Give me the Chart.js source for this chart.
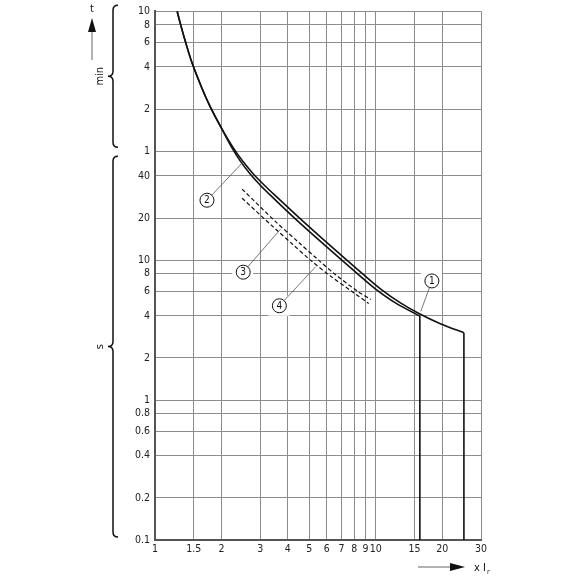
<!DOCTYPE html>
<html>
<head>
<meta charset="utf-8">
<script src="https://cdn.jsdelivr.net/npm/chart.js@4.4.1/dist/chart.umd.min.js"></script>
<style>
  html,body{margin:0;padding:0;background:#fff;}
  #wrap{width:580px;height:580px;}
</style>
</head>
<body>
<div id="wrap"><canvas id="chart" width="580" height="580"></canvas></div>
<script>
// axis ticks
const xTicks = [1, 1.5, 2, 3, 4, 5, 6, 7, 8, 9, 10, 15, 20, 30];
const yTicks = [0.1, 0.2, 0.4, 0.6, 0.8, 1, 2, 4, 6, 8, 10, 20, 40, 60, 120, 240, 360, 480, 600];
const yTickLabels = ['0.1','0.2','0.4','0.6','0.8','1','2','4','6','8','10','20','40','1','2','4','6','8','10'];

// curve 1 (outer solid), x = multiple of Ir, y = seconds
const curve1X = [1.26, 1.30, 1.37, 1.47, 1.63, 1.78, 2.0, 2.26, 2.5, 2.79, 3.13, 3.5, 4.48, 5.5, 7.31, 8.7, 10.5, 13.0, 15.7, 19.75, 25.1];
const curve1Y = [600, 496, 369, 258, 170, 124.6, 87.8, 63.7, 50.8, 41.3, 34.3, 29.0, 20.2, 15.1, 10.15, 8.01, 6.24, 4.93, 4.16, 3.5, 3.03];
const drop1X = [25.1, 25.1];
const drop1Y = [3.03, 0.1];

// curve 2 (inner solid)
const curve2X = [1.26, 1.30, 1.37, 1.47, 1.63, 1.78, 2.0, 2.23, 2.44, 2.70, 3.00, 3.34, 4.25, 5.22, 6.94, 8.26, 9.96, 12.34, 15.85];
const curve2Y = [600, 496, 369, 258, 170, 124.6, 87.8, 63.7, 50.8, 41.3, 34.3, 29.0, 20.2, 15.1, 10.15, 8.01, 6.24, 4.93, 3.98];
const drop2X = [15.85, 15.85];
const drop2Y = [3.98, 0.1];

// dashed curves 3 and 4
const curve3X = [2.48, 3.5, 4.5, 5.51, 6.5, 8.26, 9.5];
const curve3Y = [32.2, 19, 13.3, 10, 8.0, 6.0, 5.24];
const curve4X = [2.48, 3.5, 4.2, 5.06, 6.2, 7.83, 9.3];
const curve4Y = [27.7, 16.8, 13.0, 10, 7.75, 5.95, 4.9];

// circled curve numbers and where their leader lines end
const markNames = ['1', '2', '3', '4'];
const markX = [17.97, 1.72, 2.51, 3.66];
const markY = [7.1, 26.8, 8.2, 4.72];
const leadX = [16.0, 2.5, 3.70, 5.34];
const leadY = [4.3, 50, 16.6, 8.96];

const FONT = "'Liberation Sans Narrow', 'DejaVu Sans Condensed', 'Roboto', sans-serif";

function pts(xs, ys){ return xs.map((x,i)=>({x, y: ys[i]})); }

function solid(xs, ys, smooth){
  return { data: pts(xs, ys), borderColor:'#111', borderWidth:1.6, pointRadius:0,
    tension: smooth ? 0.3 : 0, fill:false };
}
function dashed(xs, ys){
  return { data: pts(xs, ys), borderColor:'#111', borderWidth:1.2, borderDash:[4,2.5], pointRadius:0,
    tension: 0.3, fill:false };
}

const labelsPlugin = {
  id: 'curveLabels',
  beforeDatasetsDraw(chart){
    const {ctx, scales:{x, y}} = chart;
    ctx.save();
    ctx.fillStyle = '#fff';
    markNames.forEach((n,i)=>{
      const cx = x.getPixelForValue(markX[i]), cy = y.getPixelForValue(markY[i]);
      ctx.fillRect(cx-11, cy-10, 21, 20);
    });
    ctx.restore();
  },
  afterDatasetsDraw(chart){
    const {ctx, scales:{x, y}} = chart;
    ctx.save();
    markNames.forEach((n,i)=>{
      const cx = x.getPixelForValue(markX[i]), cy = y.getPixelForValue(markY[i]);
      const tx = x.getPixelForValue(leadX[i]), ty = y.getPixelForValue(leadY[i]);
      const r = 7;
      const d = Math.hypot(tx-cx, ty-cy);
      ctx.strokeStyle = '#555';
      ctx.lineWidth = 0.8;
      ctx.beginPath();
      ctx.moveTo(cx + (tx-cx)/d*r, cy + (ty-cy)/d*r);
      ctx.lineTo(tx, ty);
      ctx.stroke();
      ctx.beginPath();
      ctx.arc(cx, cy, r, 0, Math.PI*2);
      ctx.fillStyle = '#fff';
      ctx.fill();
      ctx.strokeStyle = '#111';
      ctx.lineWidth = 1;
      ctx.stroke();
      ctx.fillStyle = '#111';
      ctx.font = '10px ' + FONT;
      ctx.textAlign = 'center';
      ctx.textBaseline = 'middle';
      ctx.fillText(n, cx, cy+0.5);
    });
    ctx.restore();
  },
  afterDraw(chart){
    const {ctx, scales:{x, y}} = chart;
    ctx.save();
    ctx.strokeStyle = '#111';
    ctx.fillStyle = '#111';

    // braces for min / s
    function brace(top, bottom, bx){
      const mid = (top + bottom) / 2;
      ctx.lineWidth = 1.5;
      ctx.beginPath();
      ctx.moveTo(bx+5, top);
      ctx.quadraticCurveTo(bx, top, bx, top+5);
      ctx.lineTo(bx, mid-5);
      ctx.quadraticCurveTo(bx, mid, bx-5, mid);
      ctx.quadraticCurveTo(bx, mid, bx, mid+5);
      ctx.lineTo(bx, bottom-5);
      ctx.quadraticCurveTo(bx, bottom, bx+5, bottom);
      ctx.stroke();
      return mid;
    }
    const minTop = y.getPixelForValue(600) - 6;
    const minBot = y.getPixelForValue(60) - 4;
    const sTop = y.getPixelForValue(60) + 5;
    const sBot = y.getPixelForValue(0.1) - 3;
    const m1 = brace(minTop, minBot, 113);
    const m2 = brace(sTop, sBot, 113);

    ctx.font = '11px ' + FONT;
    ctx.textAlign = 'center';
    ctx.textBaseline = 'middle';
    [['min', m1], ['s', m2]].forEach(([t, m])=>{
      ctx.save();
      ctx.translate(100, m);
      ctx.rotate(-Math.PI/2);
      ctx.fillText(t, 0, 0);
      ctx.restore();
    });

    // t arrow
    ctx.fillText('t', 92, 9);
    ctx.strokeStyle = '#666';
    ctx.lineWidth = 1;
    ctx.beginPath(); ctx.moveTo(92, 60); ctx.lineTo(92, 30); ctx.stroke();
    ctx.beginPath(); ctx.moveTo(92, 18); ctx.lineTo(88, 32); ctx.lineTo(96, 32); ctx.closePath(); ctx.fill();

    // x Ir arrow
    ctx.beginPath(); ctx.moveTo(418, 567); ctx.lineTo(452, 567); ctx.stroke();
    ctx.beginPath(); ctx.moveTo(465, 567); ctx.lineTo(450, 563); ctx.lineTo(450, 571); ctx.closePath(); ctx.fill();
    ctx.textAlign = 'left';
    ctx.textBaseline = 'alphabetic';
    ctx.fillText('x I', 474, 571);
    const w = ctx.measureText('x I').width;
    ctx.font = '7px ' + FONT;
    ctx.fillText('r', 474 + w + 1, 574);
    ctx.restore();
  }
};

new Chart(document.getElementById('chart'), {
  type: 'line',
  data: {
    datasets: [
      solid(curve1X, curve1Y, true),
      solid(drop1X, drop1Y, false),
      solid(curve2X, curve2Y, true),
      solid(drop2X, drop2Y, false),
      dashed(curve3X, curve3Y),
      dashed(curve4X, curve4Y)
    ]
  },
  options: {
    responsive: false,
    animation: false,
    layout: { padding: { top: 10, right: 99, bottom: 0, left: 0 } },
    plugins: { legend: { display: false }, tooltip: { enabled: false } },
    scales: {
      x: {
        type: 'logarithmic', min: 1, max: 30,
        afterBuildTicks: s => { s.ticks = xTicks.map(v => ({ value: v })); },
        afterFit: s => { s.height = 40; },
        ticks: {
          autoSkip: false, maxRotation: 0, padding: 3, color: '#222',
          font: { family: FONT, size: 10.5 },
          callback: (v, i) => String(xTicks[i])
        },
        grid: { color: '#8c8c8c', lineWidth: 1, drawTicks: false },
        border: { color: '#555', width: 2 }
      },
      y: {
        type: 'logarithmic', min: 0.1, max: 600,
        afterBuildTicks: s => { s.ticks = yTicks.map(v => ({ value: v })); },
        afterFit: s => { s.width = 155; },
        ticks: {
          autoSkip: false, padding: 5, color: '#222',
          font: { family: FONT, size: 10.5 },
          callback: (v, i) => yTickLabels[i]
        },
        grid: { color: '#8c8c8c', lineWidth: 1, drawTicks: false },
        border: { color: '#555', width: 2 }
      }
    }
  },
  plugins: [labelsPlugin]
});
</script>
</body>
</html>
